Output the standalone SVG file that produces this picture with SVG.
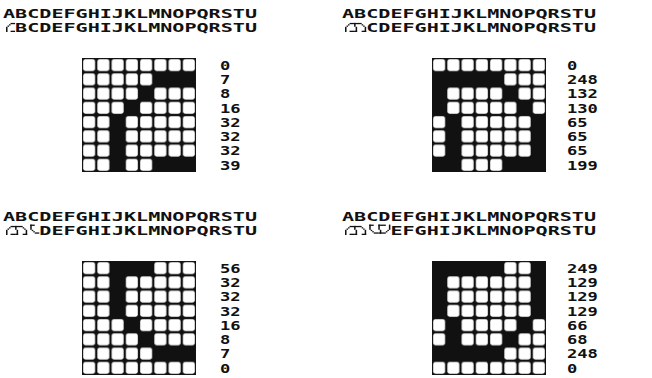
<svg xmlns="http://www.w3.org/2000/svg" width="652" height="378" viewBox="0 0 652 378">
<style>
  text{font-family:"DejaVu Sans Mono","Liberation Mono",monospace;fill:#111;font-weight:bold}
  .t{font-size:12.5px}
  .n{font-size:13px}
</style>
<defs>
  <pattern id="cells" patternUnits="userSpaceOnUse" width="14.25" height="14.25">
    <rect width="14.25" height="14.25" fill="#111"/>
    <rect x="1.15" y="1.15" width="11.95" height="11.95" rx="2.3" fill="#fff"/>
  </pattern>
  <g id="b1" fill="#111">
    <rect x="71.25" y="14.25" width="42.75" height="14.25"/>
    <rect x="57" y="28.5" width="14.25" height="14.25"/>
    <rect x="42.75" y="42.75" width="14.25" height="14.25"/>
    <rect x="28.5" y="57" width="14.25" height="57"/>
    <rect x="71.25" y="99.75" width="42.75" height="14.25"/>
  </g>
  <g id="b2" fill="#111">
    <rect x="0" y="14.25" width="71.25" height="14.25"/>
    <rect x="0" y="14.25" width="14.25" height="42.75"/>
    <rect x="71.25" y="28.5" width="14.25" height="14.25"/>
    <rect x="85.5" y="42.75" width="14.25" height="14.25"/>
    <rect x="14.25" y="57" width="14.25" height="57"/>
    <rect x="99.75" y="57" width="14.25" height="57"/>
    <rect x="0" y="99.75" width="28.5" height="14.25"/>
    <rect x="71.25" y="99.75" width="42.75" height="14.25"/>
  </g>
  <g id="b3" fill="#111">
    <rect x="28.5" y="0" width="42.75" height="14.25"/>
    <rect x="28.5" y="0" width="14.25" height="57"/>
    <rect x="42.75" y="57" width="14.25" height="14.25"/>
    <rect x="57" y="71.25" width="14.25" height="14.25"/>
    <rect x="71.25" y="85.5" width="42.75" height="14.25"/>
  </g>
  <g id="b4" fill="#111">
    <rect x="0" y="0" width="71.25" height="14.25"/>
    <rect x="0" y="0" width="14.25" height="57"/>
    <rect x="99.75" y="0" width="14.25" height="57"/>
    <rect x="14.25" y="57" width="14.25" height="42.75"/>
    <rect x="85.5" y="57" width="14.25" height="14.25"/>
    <rect x="71.25" y="71.25" width="14.25" height="14.25"/>
    <rect x="0" y="85.5" width="71.25" height="14.25"/>
  </g>
</defs>

<!-- Panel 1: top-left -->
<g id="panel1">
  <text class="t" x="3" y="18" textLength="254" lengthAdjust="spacingAndGlyphs">ABCDEFGHIJKLMNOPQRSTU</text>
  <use href="#b1" transform="translate(3,21.6) scale(0.106,0.0912)"/>
  <text class="t" x="15.1" y="32" textLength="241.9" lengthAdjust="spacingAndGlyphs">BCDEFGHIJKLMNOPQRSTU</text>
  <g transform="translate(82,58)">
    <rect width="114" height="114" fill="url(#cells)"/>
    <use href="#b1"/>
    <text class="n" x="138" y="11.8" textLength="10.3" lengthAdjust="spacingAndGlyphs">0</text>
    <text class="n" x="138" y="26.05" textLength="10.3" lengthAdjust="spacingAndGlyphs">7</text>
    <text class="n" x="138" y="40.3" textLength="10.3" lengthAdjust="spacingAndGlyphs">8</text>
    <text class="n" x="138" y="54.55" textLength="20.6" lengthAdjust="spacingAndGlyphs">16</text>
    <text class="n" x="138" y="68.8" textLength="20.6" lengthAdjust="spacingAndGlyphs">32</text>
    <text class="n" x="138" y="83.05" textLength="20.6" lengthAdjust="spacingAndGlyphs">32</text>
    <text class="n" x="138" y="97.3" textLength="20.6" lengthAdjust="spacingAndGlyphs">32</text>
    <text class="n" x="138" y="111.55" textLength="20.6" lengthAdjust="spacingAndGlyphs">39</text>
  </g>
</g>

<!-- Panel 2: top-right -->
<g id="panel2">
  <text class="t" x="342" y="18" textLength="254" lengthAdjust="spacingAndGlyphs">ABCDEFGHIJKLMNOPQRSTU</text>
  <use href="#b1" transform="translate(342,21.6) scale(0.106,0.0912)"/>
  <use href="#b2" transform="translate(354.1,21.6) scale(0.106,0.0912)"/>
  <text class="t" x="366.2" y="32" textLength="229.9" lengthAdjust="spacingAndGlyphs">CDEFGHIJKLMNOPQRSTU</text>
  <g transform="translate(432,58)">
    <rect width="114" height="114" fill="url(#cells)"/>
    <use href="#b2"/>
    <text class="n" x="135" y="11.8" textLength="10.3" lengthAdjust="spacingAndGlyphs">0</text>
    <text class="n" x="135" y="26.05" textLength="30.9" lengthAdjust="spacingAndGlyphs">248</text>
    <text class="n" x="135" y="40.3" textLength="30.9" lengthAdjust="spacingAndGlyphs">132</text>
    <text class="n" x="135" y="54.55" textLength="30.9" lengthAdjust="spacingAndGlyphs">130</text>
    <text class="n" x="135" y="68.8" textLength="20.6" lengthAdjust="spacingAndGlyphs">65</text>
    <text class="n" x="135" y="83.05" textLength="20.6" lengthAdjust="spacingAndGlyphs">65</text>
    <text class="n" x="135" y="97.3" textLength="20.6" lengthAdjust="spacingAndGlyphs">65</text>
    <text class="n" x="135" y="111.55" textLength="30.9" lengthAdjust="spacingAndGlyphs">199</text>
  </g>
</g>

<!-- Panel 3: bottom-left -->
<g id="panel3">
  <text class="t" x="3" y="221" textLength="254" lengthAdjust="spacingAndGlyphs">ABCDEFGHIJKLMNOPQRSTU</text>
  <use href="#b1" transform="translate(3,224.6) scale(0.106,0.0912)"/>
  <use href="#b2" transform="translate(15.1,224.6) scale(0.106,0.0912)"/>
  <use href="#b3" transform="translate(27.2,224.6) scale(0.106,0.0912)"/>
  <text class="t" x="39.3" y="235" textLength="217.8" lengthAdjust="spacingAndGlyphs">DEFGHIJKLMNOPQRSTU</text>
  <g transform="translate(82,261)">
    <rect width="114" height="114" fill="url(#cells)"/>
    <use href="#b3"/>
    <text class="n" x="138" y="11.8" textLength="20.6" lengthAdjust="spacingAndGlyphs">56</text>
    <text class="n" x="138" y="26.05" textLength="20.6" lengthAdjust="spacingAndGlyphs">32</text>
    <text class="n" x="138" y="40.3" textLength="20.6" lengthAdjust="spacingAndGlyphs">32</text>
    <text class="n" x="138" y="54.55" textLength="20.6" lengthAdjust="spacingAndGlyphs">32</text>
    <text class="n" x="138" y="68.8" textLength="20.6" lengthAdjust="spacingAndGlyphs">16</text>
    <text class="n" x="138" y="83.05" textLength="10.3" lengthAdjust="spacingAndGlyphs">8</text>
    <text class="n" x="138" y="97.3" textLength="10.3" lengthAdjust="spacingAndGlyphs">7</text>
    <text class="n" x="138" y="111.55" textLength="10.3" lengthAdjust="spacingAndGlyphs">0</text>
  </g>
</g>

<!-- Panel 4: bottom-right -->
<g id="panel4">
  <text class="t" x="342" y="221" textLength="254" lengthAdjust="spacingAndGlyphs">ABCDEFGHIJKLMNOPQRSTU</text>
  <use href="#b1" transform="translate(342,224.6) scale(0.106,0.0912)"/>
  <use href="#b2" transform="translate(354.1,224.6) scale(0.106,0.0912)"/>
  <use href="#b3" transform="translate(366.2,224.6) scale(0.106,0.0912)"/>
  <use href="#b4" transform="translate(378.3,224.6) scale(0.106,0.0912)"/>
  <text class="t" x="390.4" y="235" textLength="205.7" lengthAdjust="spacingAndGlyphs">EFGHIJKLMNOPQRSTU</text>
  <g transform="translate(432,261)">
    <rect width="114" height="114" fill="url(#cells)"/>
    <use href="#b4"/>
    <text class="n" x="135" y="11.8" textLength="30.9" lengthAdjust="spacingAndGlyphs">249</text>
    <text class="n" x="135" y="26.05" textLength="30.9" lengthAdjust="spacingAndGlyphs">129</text>
    <text class="n" x="135" y="40.3" textLength="30.9" lengthAdjust="spacingAndGlyphs">129</text>
    <text class="n" x="135" y="54.55" textLength="30.9" lengthAdjust="spacingAndGlyphs">129</text>
    <text class="n" x="135" y="68.8" textLength="20.6" lengthAdjust="spacingAndGlyphs">66</text>
    <text class="n" x="135" y="83.05" textLength="20.6" lengthAdjust="spacingAndGlyphs">68</text>
    <text class="n" x="135" y="97.3" textLength="30.9" lengthAdjust="spacingAndGlyphs">248</text>
    <text class="n" x="135" y="111.55" textLength="10.3" lengthAdjust="spacingAndGlyphs">0</text>
  </g>
</g>
</svg>
